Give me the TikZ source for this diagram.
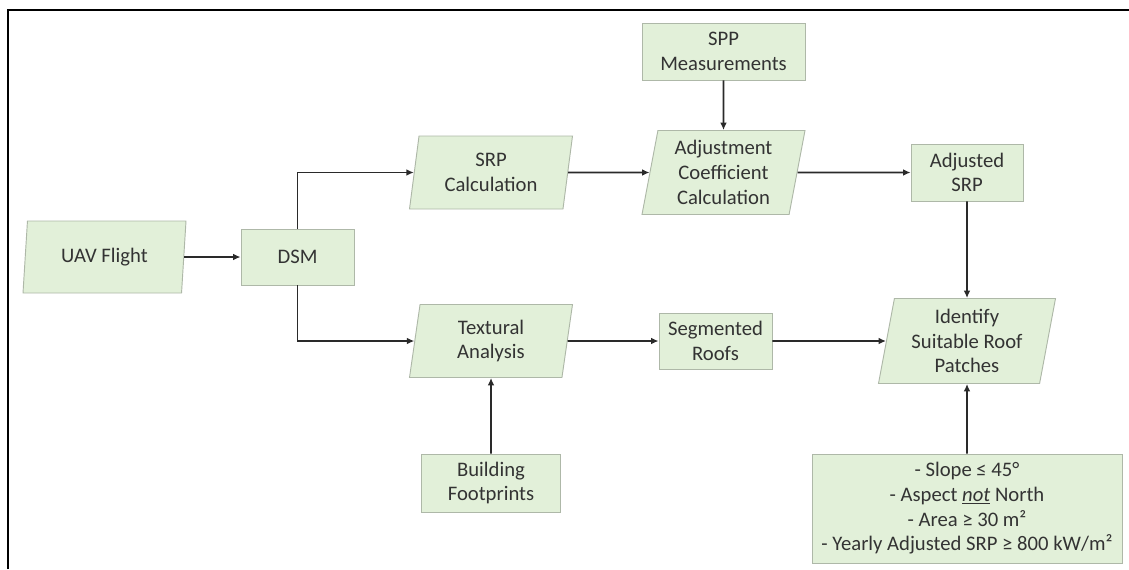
\documentclass[tikz,border=0pt]{standalone}
\usepackage{fontspec}
\setmainfont{Carlito}
\usetikzlibrary{shapes.geometric,arrows.meta}
\definecolor{boxfill}{HTML}{E2F0D9}
\definecolor{boxline}{HTML}{AEB8A8}
\definecolor{ink}{HTML}{333333}
\definecolor{flowink}{HTML}{2A2A2A}
\begin{document}
\begin{tikzpicture}[x=0.75pt,y=-0.75pt,
  box/.style={draw=boxline, fill=boxfill, text=ink, align=center, inner sep=0pt, line width=0.7pt, font=\fontsize{15.5}{18.5}\selectfont},
  para/.style={box, trapezium, trapezium left angle=76, trapezium right angle=104, trapezium stretches body=true},
  flow/.style={draw=flowink, line width=1.3pt, -{Latex[length=5.5pt,width=5pt]}}]
\useasboundingbox (0,0) rectangle (1129,569);
\draw[line width=1.5pt] (8,569) -- (8,10) -- (1129,10);
\node[para, minimum width=122.25pt, minimum height=54pt] (uav) at (104.5,257) {UAV Flight};
\node[box, minimum width=84.75pt, minimum height=42pt] (dsm) at (297.5,257) {DSM};
\node[para, minimum width=122.25pt, minimum height=54.75pt] (srp) at (491,172.5) {SRP\\Calculation};
\node[box, minimum width=122.25pt, minimum height=42.75pt] (spp) at (723.5,51.5) {SPP\\Measurements};
\node[para, minimum width=122.25pt, minimum height=63pt] (adj) at (723.5,172.5) {Adjustment\\Coefficient\\Calculation};
\node[box, minimum width=84pt, minimum height=42.75pt] (adjsrp) at (967,172.5) {Adjusted\\SRP};
\node[para, minimum width=132.75pt, minimum height=63.75pt] (ident) at (967,341) {Identify\\Suitable Roof\\Patches};
\node[box, minimum width=232.5pt, minimum height=81.75pt] (crit) at (967,508.5) {- Slope ≤ 45°\\- Aspect \underline{\textit{not}} North\\- Area ≥ 30 m²\\- Yearly Adjusted SRP ≥ 800 kW/m²};
\node[para, minimum width=122.25pt, minimum height=54.75pt] (text) at (491,341) {Textural\\Analysis};
\node[box, minimum width=84.75pt, minimum height=42pt] (seg) at (715.5,341) {Segmented\\Roofs};
\node[box, minimum width=104.25pt, minimum height=43.5pt] (foot) at (491,483) {Building\\Footprints};
\draw[flow] (uav) -- (dsm);
\draw[flow] (dsm) |- (srp);
\draw[flow] (dsm) |- (text);
\draw[flow] (srp) -- (adj);
\draw[flow] (spp) -- (adj);
\draw[flow] (adj) -- (adjsrp);
\draw[flow] (adjsrp) -- (ident);
\draw[flow] (text) -- (seg);
\draw[flow] (seg) -- (ident);
\draw[flow] (foot) -- (text);
\draw[flow] (crit) -- (ident);
\end{tikzpicture}
\end{document}
